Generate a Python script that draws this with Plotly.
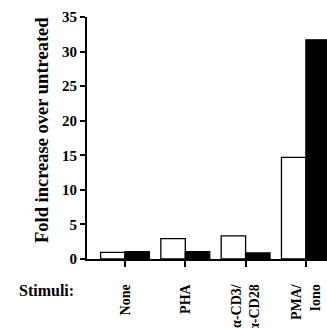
import plotly.graph_objects as go

categories = ["None", "PHA", "α-CD3/<br>α-CD28", "PMA/<br>Iono"]
white_values = [0.97, 2.95, 3.35, 14.7]
black_values = [1.05, 1.05, 0.87, 31.7]
y_ticks = [0, 5, 10, 15, 20, 25, 30, 35]
y_title = "Fold increase over untreated"
x_title = "Stimuli:"

font_family = "Liberation Serif"

fig = go.Figure()
fig.add_trace(go.Bar(x=categories, y=white_values, marker=dict(color="white", line=dict(color="black", width=1.3)), showlegend=False))
fig.add_trace(go.Bar(x=categories, y=black_values, marker=dict(color="black", line=dict(color="black", width=1.3)), showlegend=False))

fig.update_layout(
    width=327, height=328,
    margin=dict(l=87, r=0, t=17, b=69),
    paper_bgcolor="white", plot_bgcolor="white",
    barmode="group", bargap=0.19, bargroupgap=0,
    font=dict(family=font_family, color="black", size=14, weight="bold"),
    xaxis=dict(
        range=[-0.63, 3.35], tickangle=-90, showline=True, linecolor="black", linewidth=1.5,
        ticks="outside", ticklen=6, tickwidth=1.5, tickcolor="black", showgrid=False,
        tickfont=dict(family=font_family, size=14, color="black", weight="bold"),
        ticklabelstandoff=12, automargin=False,
    ),
    yaxis=dict(
        range=[0, 35], tickvals=y_ticks, showline=True, linecolor="black", linewidth=1.8,
        ticks="outside", ticklen=5, tickwidth=1.5, tickcolor="black", showgrid=False, zeroline=False,
        tickfont=dict(family=font_family, size=15, color="black", weight="bold"),
        automargin=False,
    ),
)
fig.add_annotation(text=y_title, xref="paper", yref="paper", x=(42 - 87) / 240, y=(259 - 130) / 242,
                   xanchor="center", yanchor="middle", textangle=-90, showarrow=False,
                   font=dict(family=font_family, size=18.5, color="black", weight="bold"))
fig.add_annotation(text=x_title, xref="paper", yref="paper", x=(17 - 87) / 240, y=-(290 - 259) / 242,
                   xanchor="left", yanchor="middle", showarrow=False,
                   font=dict(family=font_family, size=16, color="black", weight="bold"))
fig.write_html("out.html", config={"displayModeBar": False},
               post_script="document.body.style.margin='0';document.body.style.overflow='hidden';")
